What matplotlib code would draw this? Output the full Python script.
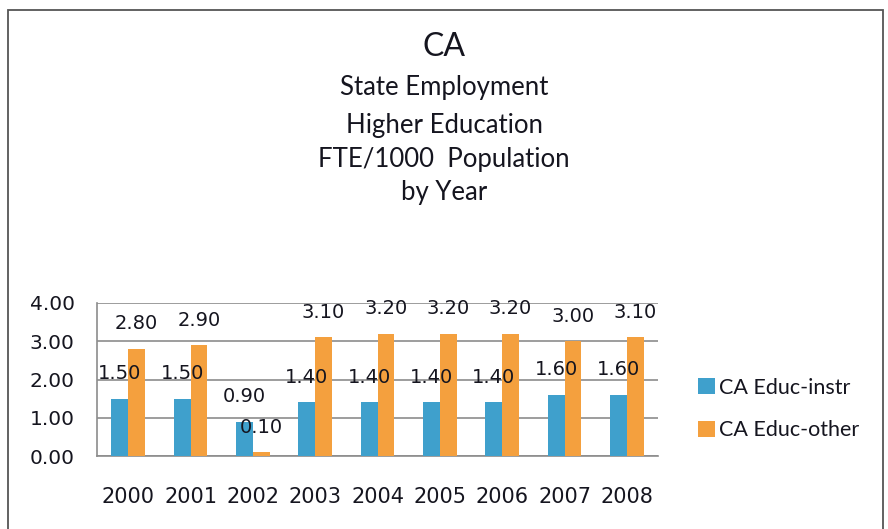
import matplotlib
matplotlib.use("Agg")
import matplotlib.pyplot as plt
import matplotlib.patches as mpatches
import numpy as np

# data
years = ["2000", "2001", "2002", "2003", "2004", "2005", "2006", "2007", "2008"]
educ_instr = [1.5, 1.5, 0.9, 1.4, 1.4, 1.4, 1.4, 1.6, 1.6]
educ_other = [2.8, 2.9, 0.1, 3.1, 3.2, 3.2, 3.2, 3.0, 3.1]
yticks = [0, 1, 2, 3, 4]
title_lines = ["State Employment", "Higher Education", "FTE/1000  Population", "by Year"]

blue = '#3fa0cc'
orange = '#f4a03e'
grid_col = '#8c8c8c'
txt_col = '#15151f'

fig = plt.figure(figsize=(8.88, 5.29), dpi=100)
ax = fig.add_axes([97/888, 1-456/529, 561/888, 153/529])

x = np.arange(len(years))
w = 0.27
b1 = ax.bar(x - w/2, educ_instr, w, color=blue, label='CA Educ-instr', zorder=3)
b2 = ax.bar(x + w/2, educ_other, w, color=orange, label='CA Educ-other', zorder=3)

# data labels above each bar
for bars, vals in ((b1, educ_instr), (b2, educ_other)):
    for r, v in zip(bars, vals):
        ax.annotate('%.2f' % v, (r.get_x() + r.get_width()/2, v),
                    xytext=(0, 18), textcoords='offset points',
                    ha='center', va='center', fontsize=14,
                    family='DejaVu Sans', color=txt_col, zorder=4)

ax.set_xlim(-0.5, len(years) - 0.5)
ax.set_ylim(0, 4)
ax.set_yticks(yticks)
ax.set_yticklabels(['%.2f' % t for t in yticks])
ax.set_xticks(x)
ax.set_xticklabels(years)
ax.tick_params(axis='y', length=0, pad=16, labelsize=14.5, labelcolor=txt_col)
ax.tick_params(axis='x', length=0, pad=22, labelsize=15, labelcolor=txt_col)
ax.yaxis.grid(True, color=grid_col, linewidth=1.2, zorder=0)
for s in ['top', 'right']:
    ax.spines[s].set_visible(False)
for s in ['left', 'bottom']:
    ax.spines[s].set_color(grid_col)
    ax.spines[s].set_linewidth(1.2)

# titles
fig.text(0.5, 1-47/529, "CA", ha='center', va='center', fontsize=23,
         family='Lato', color=txt_col)
ty = [88, 125, 160, 193]
for t, yy in zip(title_lines, ty):
    fig.text(0.5, 1-yy/529, t, ha='center', va='center', fontsize=18.5,
             family='Lato', color=txt_col)

leg = ax.legend(loc='center left', bbox_to_anchor=(679/888, 1-409/529),
                bbox_transform=fig.transFigure, frameon=False,
                handlelength=0.75, handleheight=0.75, handletextpad=0.2,
                labelspacing=1.05, prop={'family': 'Lato', 'size': 15.5})
for t in leg.get_texts():
    t.set_color(txt_col)

# outer frame
frame = mpatches.Rectangle((8/888, -0.02), 875/888, 1 - 10/529 + 0.02,
                           transform=fig.transFigure, fill=False,
                           edgecolor='#555555', linewidth=1.3, clip_on=False)
fig.patches.append(frame)

fig.savefig('out.png', dpi=100)
